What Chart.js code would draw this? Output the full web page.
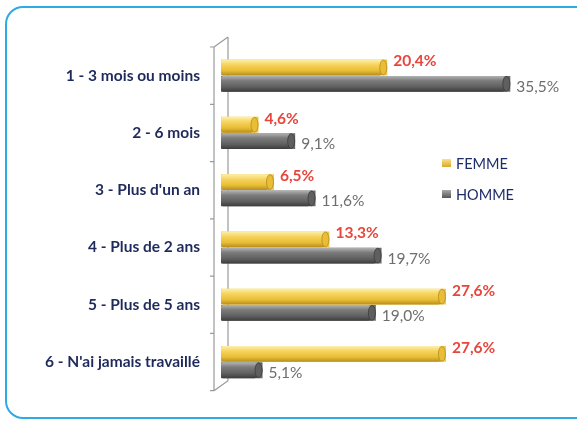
<!DOCTYPE html>
<html lang="fr">
<head>
<meta charset="UTF-8">
<title>Durée sans emploi - Femme / Homme</title>
<script src="https://cdn.jsdelivr.net/npm/chart.js"></script>
<style>
    body { margin: 0; background: #fff; }
    .wrap { position: relative; width: 577px; height: 421px; overflow: hidden; background: #fff; }
    .frame {
        position: absolute; left: 5px; top: 6px; width: 590px; height: 413px;
        border: 2px solid #2eaae4; border-radius: 18px; box-sizing: border-box;
    }
    canvas { position: absolute; left: 0; top: 0; }
    .legend {
        position: absolute; left: 442px; top: 154px;
        font-family: 'Lato', sans-serif; font-size: 14.5px; color: #1f2c6b;
    }
    .legend div { display: flex; align-items: center; height: 18px; margin-bottom: 13px; }
    .legend .box { width: 9px; height: 8px; margin-right: 5px; }
</style>
</head>
<body>
<div class="wrap">
    <div class="frame"></div>
    <canvas id="chart" width="577" height="421"></canvas>
    <div class="legend">
        <div><span class="box" style="background:linear-gradient(#fbe28a,#d9a92a)"></span>FEMME</div>
        <div><span class="box" style="background:linear-gradient(#a9a9a9,#555)"></span>HOMME</div>
    </div>
</div>

<script>
    const categories = ['1 - 3 mois ou moins', '2 - 6 mois', "3 - Plus d'un an", '4 - Plus de 2 ans', '5 - Plus de 5 ans', "6 - N'ai jamais travaillé"];
    const femme = [20.4, 4.6, 6.5, 13.3, 27.6, 27.6];
    const homme = [35.5, 9.1, 11.6, 19.7, 19.0, 5.1];

    const fmt = v => v.toFixed(1).replace('.', ',') + '%';

    // cylinder shading drawn over the library's bars
    const shade = {
        id: 'shade',
        afterDatasetsDraw(chart) {
            const ctx = chart.ctx;
            chart.data.datasets.forEach((ds, di) => {
                const meta = chart.getDatasetMeta(di);
                const cols = di === 0
                    ? ['#fdf0b0', '#f7d560', '#e9bd35', '#b58d1c']
                    : ['#b4b4b4', '#7c7c7c', '#5f5f5f', '#3c3c3c'];
                meta.data.forEach(bar => {
                    const p = bar.getProps(['x', 'y', 'base', 'height']);
                    const top = p.y - p.height / 2, h = p.height;
                    const left = p.base, w = p.x - p.base;
                    const g = ctx.createLinearGradient(0, top, 0, top + h);
                    g.addColorStop(0, cols[0]);
                    g.addColorStop(0.3, cols[1]);
                    g.addColorStop(0.7, cols[2]);
                    g.addColorStop(1, cols[3]);
                    ctx.save();
                    ctx.fillStyle = g;
                    ctx.beginPath();
                    ctx.roundRect(left, top, w, h, [2, h / 2, h / 2, 2]);
                    ctx.fill();
                    // end cap
                    ctx.beginPath();
                    ctx.ellipse(p.x - 4, p.y, 3.5, h / 2 - 0.5, 0, 0, Math.PI * 2);
                    ctx.fillStyle = cols[2];
                    ctx.fill();
                    ctx.strokeStyle = cols[3];
                    ctx.lineWidth = 0.8;
                    ctx.stroke();
                    ctx.restore();
                });
            });
        }
    };

    const valueLabels = {
        id: 'valueLabels',
        afterDatasetsDraw(chart) {
            const ctx = chart.ctx;
            ctx.save();
            ctx.textAlign = 'left';
            ctx.textBaseline = 'middle';
            chart.data.datasets.forEach((ds, di) => {
                const meta = chart.getDatasetMeta(di);
                ctx.font = di === 0 ? 'bold 15.5px Lato, sans-serif' : '15.5px Lato, sans-serif';
                ctx.fillStyle = di === 0 ? '#e8453c' : '#6e6e6e';
                meta.data.forEach((bar, i) => {
                    const dy = di === 0 ? -6 : 3;
                    ctx.fillText(fmt(ds.data[i]), bar.x + 6, bar.y + dy);
                });
            });
            ctx.restore();
        }
    };

    // 3D-looking wall axis
    const wallAxis = {
        id: 'wallAxis',
        beforeDatasetsDraw(chart) {
            const { ctx, chartArea: a } = chart;
            const fx = a.left - 7, bx = a.left + 7, d = 10;
            ctx.save();
            ctx.strokeStyle = '#9a9a9a';
            ctx.lineWidth = 1.2;
            ctx.beginPath();
            ctx.moveTo(fx, a.top); ctx.lineTo(fx, a.bottom);
            ctx.moveTo(bx, a.top - d); ctx.lineTo(bx, a.bottom - d);
            ctx.moveTo(fx, a.top); ctx.lineTo(bx, a.top - d);
            ctx.moveTo(fx, a.bottom); ctx.lineTo(bx, a.bottom - d);
            const step = (a.bottom - a.top) / categories.length;
            for (let i = 0; i <= categories.length; i++) {
                const y = a.top + i * step;
                ctx.moveTo(fx - 4, y); ctx.lineTo(fx, y);
            }
            ctx.stroke();
            ctx.restore();
        }
    };

    new Chart(document.getElementById('chart'), {
        type: 'bar',
        data: {
            labels: categories,
            datasets: [
                { label: 'FEMME', data: femme, backgroundColor: '#efc748' },
                { label: 'HOMME', data: homme, backgroundColor: '#6a6a6a' }
            ]
        },
        options: {
            indexAxis: 'y',
            responsive: false,
            animation: false,
            categoryPercentage: 0.57,
            barPercentage: 0.97,
            layout: { padding: { left: 0, right: 30, top: 47, bottom: 25 } },
            plugins: { legend: { display: false }, tooltip: { enabled: false } },
            scales: {
                x: { display: false, min: 0, max: 40 },
                y: {
                    grid: { display: false, drawTicks: false },
                    border: { display: false },
                    ticks: {
                        padding: 21,
                        color: '#1f2a5c',
                        font: { family: 'Lato', size: 15.5, weight: 'bold' }
                    },
                    afterFit(s) { s.width = 221; }
                }
            }
        },
        plugins: [wallAxis, shade, valueLabels]
    });
</script>
</body>
</html>
